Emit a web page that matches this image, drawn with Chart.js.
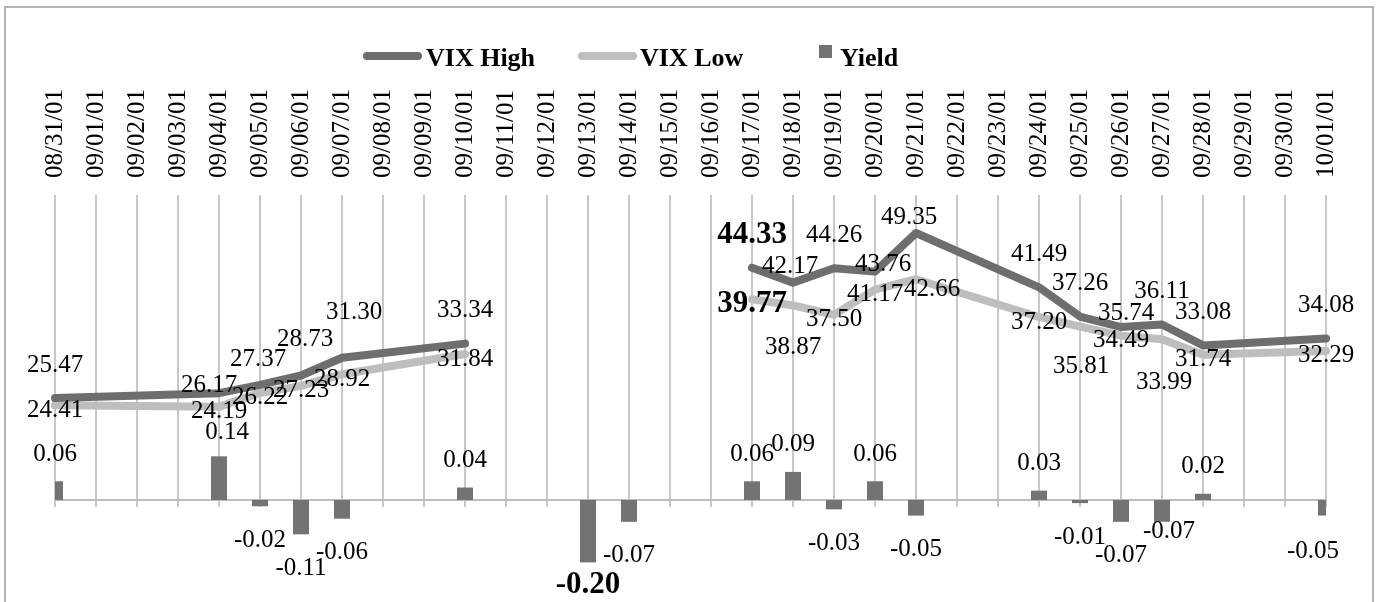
<!DOCTYPE html>
<html>
<head>
<meta charset="utf-8">
<title>VIX High / Low and Yield</title>
<script src="https://cdn.jsdelivr.net/npm/chart.js@4/dist/chart.umd.min.js"></script>
<style>
  html, body { margin: 0; padding: 0; background: #fff; }
  #wrap { position: relative; width: 1378px; height: 602px; overflow: hidden; }
  #frame { position: absolute; left: 4px; top: 6px; width: 1370px; height: 640px;
           border: 2px solid #b4b4b4; box-sizing: border-box; }
  #vixChart { position: absolute; left: 0; top: 0; }
</style>
</head>
<body>
<div id="wrap">
  <div id="frame"></div>
  <canvas id="vixChart" width="1378" height="602"></canvas>
</div>
<script>
// ---- data ----
var dates = ['08/31/01', '09/01/01', '09/02/01', '09/03/01', '09/04/01', '09/05/01', '09/06/01', '09/07/01',
             '09/08/01', '09/09/01', '09/10/01', '09/11/01', '09/12/01', '09/13/01', '09/14/01', '09/15/01',
             '09/16/01', '09/17/01', '09/18/01', '09/19/01', '09/20/01', '09/21/01', '09/22/01', '09/23/01',
             '09/24/01', '09/25/01', '09/26/01', '09/27/01', '09/28/01', '09/29/01', '09/30/01', '10/01/01'];

var vixHigh = [25.47, null, null, null, 26.17, 27.37, 28.73, 31.30, null, null, 33.34,
               null, null, null, null, null, null, 44.33, 42.17, 44.26, 43.76, 49.35,
               null, null, 41.49, 37.26, 35.74, 36.11, 33.08, null, null, 34.08];

var vixLow  = [24.41, null, null, null, 24.19, 26.22, 27.23, 28.92, null, null, 31.84,
               null, null, null, null, null, null, 39.77, 38.87, 37.50, 41.17, 42.66,
               null, null, 37.20, 35.81, 34.49, 33.99, 31.74, null, null, 32.29];

var yieldChg = [0.06, null, null, null, 0.14, -0.02, -0.11, -0.06, null, null, 0.04,
                null, null, -0.20, -0.07, null, null, 0.06, 0.09, -0.03, 0.06, -0.05,
                null, null, 0.03, -0.01, -0.07, -0.07, 0.02, null, null, -0.05];

// ---- label placement (px nudges, not data) ----
var highNudge  = { '09/04/01': [-10, -8], '09/05/01': [-2, -25], '09/06/01': [4, -36], '09/07/01': [12, -45],
                   '09/18/01': [-3, -16], '09/20/01': [8, -7], '09/21/01': [-7, -16], '09/26/01': [5, -14] };
var lowNudge   = { '09/18/01': [0, 42], '09/21/01': [16, 10], '09/25/01': [1, 40], '09/27/01': [2, 43] };
var yieldNudge = { '09/04/01': [8, -24], '09/13/01': [0, 23], '09/27/01': [7, 10], '10/01/01': [-13, 36] };
var boldLabels = { 'VIX High': ['09/17/01'], 'VIX Low': ['09/17/01'], 'Yield': ['09/13/01'] };

var fontFace = '"Liberation Serif", "Times New Roman", serif';
Chart.defaults.font.family = fontFace;

function points(values) {
    return values.map(function (v, i) { return v === null ? null : { x: dates[i], y: v }; })
                 .filter(function (p) { return p !== null; });
}

function labelOffset(name, date, v) {
    if (name === 'VIX High') return highNudge[date] || [0, -33];
    if (name === 'VIX Low') return lowNudge[date] || [0, 5];
    return yieldNudge[date] || (v >= 0 ? [0, -27] : [0, 34]);
}

// vertical grid stops at the zero line of the yield axis
var gridPlugin = {
    id: 'gridToZero',
    beforeDatasetsDraw: function (chart) {
        var ctx = chart.ctx, xs = chart.scales.x, area = chart.chartArea;
        var zeroY = chart.scales.y1.getPixelForValue(0);
        ctx.save();
        ctx.lineWidth = 2;
        ctx.strokeStyle = '#c8c8c8';
        dates.forEach(function (d, i) {
            var px = Math.round(xs.getPixelForValue(i));
            ctx.beginPath(); ctx.moveTo(px, area.top); ctx.lineTo(px, zeroY + 7); ctx.stroke();
        });
        ctx.strokeStyle = '#bcbcbc';
        ctx.beginPath(); ctx.moveTo(area.left, zeroY); ctx.lineTo(area.right, zeroY); ctx.stroke();
        ctx.restore();
    }
};

var labelPlugin = {
    id: 'valueLabels',
    afterDatasetsDraw: function (chart) {
        var ctx = chart.ctx;
        ctx.save();
        ctx.fillStyle = '#000';
        ctx.textAlign = 'center';
        ctx.textBaseline = 'middle';
        chart.data.datasets.forEach(function (ds, di) {
            var meta = chart.getDatasetMeta(di);
            ds.data.forEach(function (raw, j) {
                if (raw === null) return;
                var isObj = typeof raw === 'object';
                var v = isObj ? raw.y : raw;
                var date = isObj ? raw.x : dates[j];
                var el = meta.data[j];
                var off = labelOffset(ds.label, date, v);
                var bold = (boldLabels[ds.label] || []).indexOf(date) >= 0;
                ctx.font = (bold ? 'bold 31px ' : '25px ') + fontFace;
                ctx.fillText(v.toFixed(2), el.x + off[0], el.y + off[1]);
            });
        });
        ctx.restore();
    }
};

var legendSpots = [ { swatch: [363, 422], text: 426 },
                    { swatch: [578, 637], text: 640 },
                    { square: [819, 45, 13], text: 840 } ];

var legendPlugin = {
    id: 'sketchLegend',
    afterDraw: function (chart) {
        var ctx = chart.ctx;
        ctx.save();
        chart.data.datasets.forEach(function (ds, i) {
            var s = legendSpots[i];
            if (s.swatch) {
                ctx.strokeStyle = ds.borderColor;
                ctx.lineWidth = 8;
                ctx.lineCap = 'round';
                ctx.beginPath(); ctx.moveTo(s.swatch[0] + 4, 56); ctx.lineTo(s.swatch[1] - 4, 56); ctx.stroke();
            } else {
                ctx.fillStyle = ds.backgroundColor;
                ctx.fillRect(s.square[0], s.square[1], s.square[2], s.square[2]);
            }
            ctx.fillStyle = '#000';
            ctx.font = 'bold 26px ' + fontFace;
            ctx.textAlign = 'left';
            ctx.textBaseline = 'alphabetic';
            ctx.fillText(ds.label, s.text, 66);
        });
        ctx.restore();
    }
};

new Chart(document.getElementById('vixChart'), {
    type: 'bar',
    data: {
        labels: dates,
        datasets: [
            { type: 'line', label: 'VIX High', data: points(vixHigh), yAxisID: 'y',
              borderColor: '#6e6e6e', borderWidth: 8, pointRadius: 0, spanGaps: 4,
              borderJoinStyle: 'round', borderCapStyle: 'round', order: 0 },
            { type: 'line', label: 'VIX Low', data: points(vixLow), yAxisID: 'y',
              borderColor: '#bebebe', borderWidth: 8, pointRadius: 0, spanGaps: 4,
              borderJoinStyle: 'round', borderCapStyle: 'round', order: 1 },
            { type: 'bar', label: 'Yield', data: yieldChg, yAxisID: 'y1',
              backgroundColor: '#737373', barPercentage: 0.39, categoryPercentage: 1, clip: 0, order: 2 }
        ]
    },
    options: {
        responsive: false,
        animation: false,
        layout: { padding: { left: 55, right: 52, top: 0, bottom: 6 } },
        plugins: { legend: { display: false }, tooltip: { enabled: false } },
        scales: {
            x: { type: 'category', position: 'top', offset: false,
                 grid: { display: false, drawTicks: false }, border: { display: false },
                 ticks: { autoSkip: false, minRotation: 90, maxRotation: 90, padding: 17, labelOffset: 30,
                          color: '#000', font: { size: 25 } },
                 afterFit: function (s) { s.height = 195; s.paddingLeft = 0; s.paddingRight = 0; } },
            y:  { display: false, min: -3.18, max: 54.85 },
            y1: { display: false, min: -0.3077, max: 0.9776 }
        }
    },
    plugins: [gridPlugin, labelPlugin, legendPlugin]
});
</script>
</body>
</html>
